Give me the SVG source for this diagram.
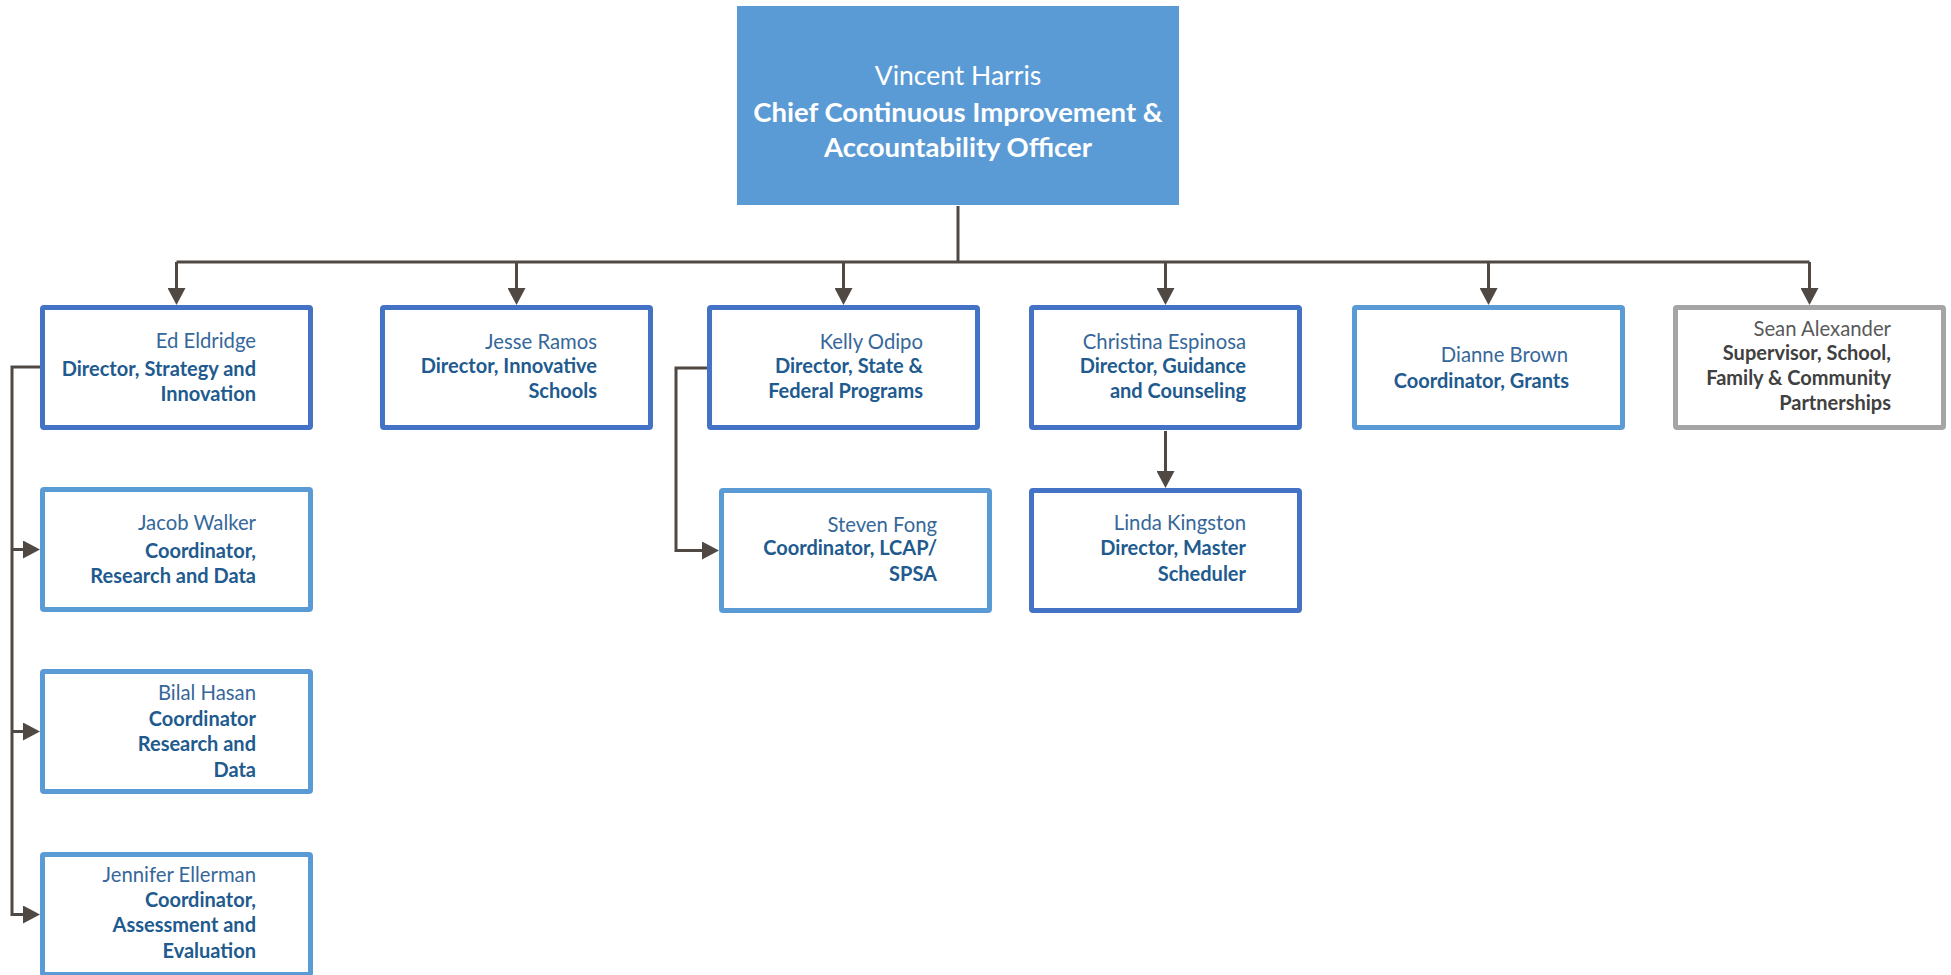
<svg xmlns="http://www.w3.org/2000/svg" width="1951" height="975" viewBox="0 0 1951 975">
<defs>
<style>
.box{fill:#fff;stroke-width:5;}
.dk{stroke:#4472C4;}
.lt{stroke:#5B9BD5;}
.gy{stroke:#A5A5A5;}
text{font-family:Lato,"Liberation Sans",sans-serif;font-size:20px;text-anchor:end;}
.nm{fill:#35679A;font-size:20.3px;}
.tl{fill:#215A8E;font-weight:bold;}
.nmg{fill:#595959;font-size:20.3px;}
.tlg{fill:#404040;font-weight:bold;}
.top text{fill:#fff;text-anchor:middle;font-size:27.5px;}
.top .tn{font-size:26.5px;}
.ln{fill:none;stroke:#4F4843;stroke-width:3;}
</style>
<marker id="ah" markerUnits="userSpaceOnUse" markerWidth="17" markerHeight="18" refX="1" refY="9" orient="auto" viewBox="0 0 17 18">
<path d="M0,0 L17,9 L0,18 z" fill="#4F4843"/>
</marker>
</defs>

<g id="connectors">
<path class="ln" d="M958,206 V262"/>
<path class="ln" d="M176.5,262 H1809.5"/>
<path class="ln" d="M176.5,262 V289" marker-end="url(#ah)"/>
<path class="ln" d="M516.5,262 V289" marker-end="url(#ah)"/>
<path class="ln" d="M843.5,262 V289" marker-end="url(#ah)"/>
<path class="ln" d="M1165.5,262 V289" marker-end="url(#ah)"/>
<path class="ln" d="M1488.5,262 V289" marker-end="url(#ah)"/>
<path class="ln" d="M1809.5,262 V289" marker-end="url(#ah)"/>
<path class="ln" d="M1165.5,431 V472" marker-end="url(#ah)"/>
<path class="ln" d="M40,367 H12 V914.5 H24" marker-end="url(#ah)"/>
<path class="ln" d="M12,549.5 H24" marker-end="url(#ah)"/>
<path class="ln" d="M12,731.5 H24" marker-end="url(#ah)"/>
<path class="ln" d="M707,368 H676 V550.5 H703" marker-end="url(#ah)"/>
</g>

<g id="vincent-harris" class="top">
<rect x="737" y="6" width="442" height="199" fill="#5B9BD5"/>
<text class="tn" x="958" y="85">Vincent Harris</text>
<text x="958" y="122" font-weight="bold">Chief Continuous Improvement &amp;</text>
<text x="958" y="157" font-weight="bold">Accountability Officer</text>
</g>

<g id="ed-eldridge">
<rect class="box dk" x="42.5" y="307.5" width="268" height="120" rx="1.5"/>
<text class="nm" x="256" y="348">Ed Eldridge</text>
<text class="tl" x="256" y="376">Director, Strategy and</text>
<text class="tl" x="256" y="401">Innovation</text>
</g>

<g id="jesse-ramos">
<rect class="box dk" x="382.5" y="307.5" width="268" height="120" rx="1.5"/>
<text class="nm" x="597" y="349">Jesse Ramos</text>
<text class="tl" x="597" y="373">Director, Innovative</text>
<text class="tl" x="597" y="398">Schools</text>
</g>

<g id="kelly-odipo">
<rect class="box dk" x="709.5" y="307.5" width="268" height="120" rx="1.5"/>
<text class="nm" x="923" y="349">Kelly Odipo</text>
<text class="tl" x="923" y="373">Director, State &amp;</text>
<text class="tl" x="923" y="398">Federal Programs</text>
</g>

<g id="christina-espinosa">
<rect class="box dk" x="1031.5" y="307.5" width="268" height="120" rx="1.5"/>
<text class="nm" x="1246" y="349">Christina Espinosa</text>
<text class="tl" x="1246" y="373">Director, Guidance</text>
<text class="tl" x="1246" y="398">and Counseling</text>
</g>

<g id="dianne-brown">
<rect class="box lt" x="1354.5" y="307.5" width="268" height="120" rx="1.5"/>
<text class="nm" x="1568" y="362">Dianne Brown</text>
<text class="tl" x="1569" y="388">Coordinator, Grants</text>
</g>

<g id="sean-alexander">
<rect class="box gy" x="1675.5" y="307.5" width="268" height="120" rx="1.5"/>
<text class="nmg" x="1891" y="336">Sean Alexander</text>
<text class="tlg" x="1891" y="360">Supervisor, School,</text>
<text class="tlg" x="1891" y="385">Family &amp; Community</text>
<text class="tlg" x="1891" y="410">Partnerships</text>
</g>

<g id="jacob-walker">
<rect class="box lt" x="42.5" y="489.5" width="268" height="120" rx="1.5"/>
<text class="nm" x="256" y="530">Jacob Walker</text>
<text class="tl" x="256" y="558">Coordinator,</text>
<text class="tl" x="256" y="583">Research and Data</text>
</g>

<g id="steven-fong">
<rect class="box lt" x="721.5" y="490.5" width="268" height="120" rx="1.5"/>
<text class="nm" x="937" y="532">Steven Fong</text>
<text class="tl" x="937" y="555">Coordinator, LCAP/</text>
<text class="tl" x="937" y="581">SPSA</text>
</g>

<g id="linda-kingston">
<rect class="box dk" x="1031.5" y="490.5" width="268" height="120" rx="1.5"/>
<text class="nm" x="1246" y="530">Linda Kingston</text>
<text class="tl" x="1246" y="555">Director, Master</text>
<text class="tl" x="1246" y="581">Scheduler</text>
</g>

<g id="bilal-hasan">
<rect class="box lt" x="42.5" y="671.5" width="268" height="120" rx="1.5"/>
<text class="nm" x="256" y="700">Bilal Hasan</text>
<text class="tl" x="256" y="726">Coordinator</text>
<text class="tl" x="256" y="751">Research and</text>
<text class="tl" x="256" y="777">Data</text>
</g>

<g id="jennifer-ellerman">
<rect class="box lt" x="42.5" y="854.5" width="268" height="120" rx="1.5"/>
<text class="nm" x="256" y="882">Jennifer Ellerman</text>
<text class="tl" x="256" y="907">Coordinator,</text>
<text class="tl" x="256" y="932">Assessment and</text>
<text class="tl" x="256" y="958">Evaluation</text>
</g>
</svg>
